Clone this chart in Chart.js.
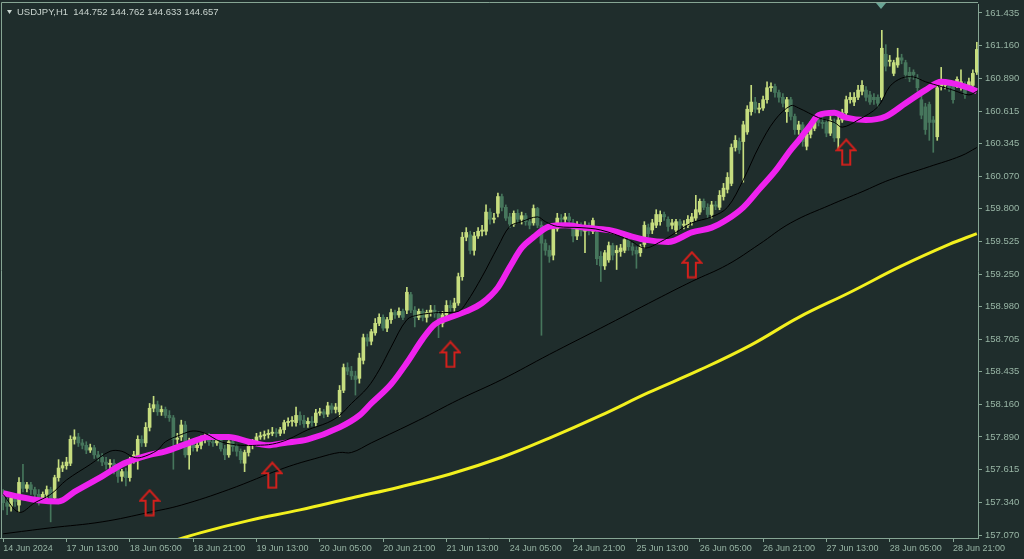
<!DOCTYPE html>
<html>
<head>
<meta charset="utf-8">
<title>USDJPY H1</title>
<script src="https://cdn.jsdelivr.net/npm/chart.js@4.4.1/dist/chart.umd.min.js"></script>
<style>
    html, body { margin: 0; padding: 0; background: #1f2d2c; }
    canvas { display: block; }
</style>
</head>
<body>
<canvas id="priceChart" width="1024" height="559"></canvas>
<script>
// =========================================================================
// USDJPY H1 candles with three moving averages, a smoothed MA and signal arrows
// =========================================================================

// Candles, one per hour bar (bar 0 = 14 Jun 2024)
const opens = [
    157.41,157.34,157.31,157.38,157.32,157.51,157.46,157.49,157.45,157.41,
    157.38,157.41,157.45,157.38,157.55,157.63,157.65,157.67,157.87,157.89,
    157.84,157.82,157.78,157.80,157.74,157.72,157.68,157.66,157.67,157.62,
    157.56,157.60,157.55,157.70,157.73,157.87,157.84,157.97,158.13,158.16,
    158.10,158.12,158.07,158.05,157.87,157.89,157.99,157.74,157.85,157.80,
    157.82,157.87,157.89,157.85,157.84,157.86,157.79,157.74,157.85,157.81,
    157.77,157.67,157.76,157.82,157.85,157.89,157.90,157.91,157.92,157.93,
    157.92,157.95,158.01,158.02,158.01,158.07,158.03,158.00,158.02,158.01,
    158.09,158.10,158.08,158.15,158.12,158.10,158.28,158.47,158.44,158.40,
    158.38,158.53,158.72,158.69,158.76,158.84,158.89,158.80,158.87,158.93,
    158.91,158.94,158.95,159.08,158.95,158.89,158.94,158.89,158.93,158.95,
    158.92,158.84,158.91,158.99,158.97,159.01,159.23,159.56,159.58,159.45,
    159.57,159.61,159.61,159.77,159.71,159.76,159.90,159.81,159.73,159.67,
    159.76,159.71,159.74,159.69,159.68,159.80,159.66,159.51,159.45,159.41,
    159.63,159.72,159.71,159.73,159.68,159.57,159.66,159.61,159.66,159.61,
    159.60,159.40,159.32,159.37,159.49,159.43,159.44,159.45,159.54,159.48,
    159.45,159.43,159.50,159.64,159.62,159.66,159.69,159.75,159.71,159.66,
    159.62,159.69,159.66,159.66,159.69,159.72,159.77,159.86,159.81,159.75,
    159.83,159.81,159.90,159.96,160.01,160.31,160.36,160.36,160.44,160.61,
    160.69,160.63,160.64,160.71,160.81,160.82,160.77,160.73,160.61,160.71,
    160.57,160.46,160.50,160.32,160.42,160.47,160.54,160.52,160.52,160.43,
    160.52,160.39,160.54,160.60,160.71,160.69,160.73,160.78,160.79,160.75,
    160.73,160.73,160.73,161.09,161.03,160.93,161.00,161.06,161.02,160.94,
    160.94,160.89,160.71,160.65,160.67,160.54,160.40,160.82,160.83,160.83,
    160.82,160.83,160.82,160.83,160.83,160.83,160.94
];
const highs = [
    157.45,157.38,157.41,157.41,157.55,157.66,157.51,157.51,157.47,157.45,
    157.43,157.48,157.47,157.57,157.70,157.68,157.72,157.90,157.95,157.92,
    157.87,157.85,157.83,157.82,157.77,157.75,157.72,157.70,157.70,157.64,
    157.62,157.63,157.72,157.77,157.90,157.90,158.01,158.17,158.23,158.19,
    158.15,158.14,158.11,158.07,157.92,158.03,158.02,157.88,157.87,157.86,
    157.90,157.92,157.92,157.88,157.89,157.88,157.82,157.86,157.87,157.83,
    157.79,157.78,157.84,157.87,157.92,157.93,157.94,157.95,157.97,157.96,
    157.97,158.03,158.05,158.06,158.14,158.10,158.07,158.05,158.06,158.12,
    158.13,158.12,158.18,158.17,158.17,158.32,158.50,158.51,158.48,158.44,
    158.59,158.75,158.75,158.79,158.88,158.92,158.91,158.89,158.96,158.95,
    158.97,158.96,159.14,159.10,158.98,158.96,158.96,158.95,158.99,158.99,
    158.94,158.94,159.03,159.03,159.05,159.26,159.60,159.64,159.61,159.60,
    159.64,159.66,159.83,159.80,159.76,159.93,159.92,159.83,159.76,159.78,
    159.79,159.77,159.76,159.71,159.83,159.81,159.69,159.54,159.49,159.66,
    159.76,159.75,159.76,159.76,159.71,159.69,159.68,159.69,159.68,159.72,
    159.63,159.44,159.45,159.52,159.51,159.49,159.50,159.57,159.56,159.51,
    159.48,159.50,159.69,159.67,159.71,159.79,159.78,159.77,159.73,159.71,
    159.71,159.71,159.70,159.74,159.76,159.91,159.88,159.88,159.84,159.86,
    159.86,159.95,160.01,160.10,160.34,160.41,160.39,160.53,160.66,160.83,
    160.73,160.68,160.74,160.86,160.85,160.84,160.79,160.76,160.73,160.73,
    160.59,160.53,160.52,160.44,160.53,160.57,160.57,160.56,160.54,160.57,
    160.55,160.57,160.63,160.74,160.77,160.77,160.83,160.87,160.82,160.78,
    160.76,160.75,161.29,161.17,161.08,161.04,161.14,161.09,161.04,160.98,
    160.96,160.92,160.79,160.68,160.69,160.57,160.84,160.98,160.88,160.87,
    160.84,160.90,160.96,160.86,160.89,160.96,161.19
];
const lows = [
    157.28,157.24,157.27,157.31,157.26,157.43,157.43,157.41,157.38,157.32,
    157.35,157.37,157.18,157.34,157.52,157.60,157.62,157.65,157.83,157.81,
    157.79,157.75,157.76,157.71,157.69,157.65,157.62,157.62,157.58,157.51,
    157.52,157.48,157.52,157.67,157.62,157.81,157.81,157.94,158.10,158.07,
    158.07,158.05,158.02,157.62,157.83,157.86,157.72,157.62,157.77,157.77,
    157.79,157.84,157.82,157.81,157.82,157.77,157.70,157.72,157.77,157.73,
    157.67,157.60,157.73,157.79,157.82,157.87,157.87,157.88,157.90,157.89,
    157.90,157.92,157.98,157.98,157.98,157.99,157.97,157.97,157.98,157.98,
    158.07,158.05,158.06,158.09,158.09,158.06,158.26,158.41,158.37,158.24,
    158.34,158.50,158.65,158.66,158.74,158.82,158.78,158.77,158.84,158.88,
    158.89,158.87,158.92,158.93,158.81,158.87,158.86,158.85,158.90,158.89,
    158.72,158.81,158.89,158.94,158.94,158.99,159.20,159.53,159.42,159.41,
    159.55,159.57,159.58,159.67,159.68,159.73,159.78,159.70,159.64,159.65,
    159.68,159.67,159.66,159.63,159.66,159.64,158.74,159.41,159.35,159.37,
    159.61,159.67,159.67,159.66,159.52,159.54,159.57,159.43,159.58,159.59,
    159.33,159.19,159.29,159.35,159.37,159.29,159.40,159.43,159.45,159.41,
    159.30,159.40,159.47,159.56,159.59,159.64,159.66,159.70,159.61,159.63,
    159.59,159.62,159.63,159.64,159.66,159.70,159.75,159.79,159.72,159.72,
    159.79,159.79,159.87,159.93,159.99,160.28,160.26,160.02,160.42,160.58,
    160.60,160.60,160.62,160.68,160.78,160.73,160.69,160.65,160.52,160.54,
    160.42,160.42,160.32,160.29,160.39,160.45,160.49,160.47,160.40,160.41,
    160.36,160.29,160.52,160.58,160.68,160.66,160.71,160.75,160.70,160.67,
    160.67,160.65,160.71,160.95,160.99,160.91,160.98,161.01,160.89,160.86,
    160.88,160.78,160.55,160.42,160.37,160.27,160.37,160.79,160.80,160.78,
    160.68,160.81,160.79,160.72,160.80,160.81,160.92
];
const closes = [
    157.34,157.31,157.38,157.35,157.51,157.46,157.49,157.45,157.41,157.38,
    157.41,157.45,157.36,157.55,157.63,157.65,157.68,157.87,157.89,157.84,
    157.82,157.78,157.80,157.74,157.72,157.68,157.66,157.67,157.62,157.56,
    157.60,157.55,157.70,157.74,157.87,157.84,157.97,158.13,158.16,158.10,
    158.12,158.07,158.05,157.87,157.88,157.99,157.74,157.85,157.80,157.82,
    157.87,157.89,157.85,157.84,157.86,157.79,157.74,157.85,157.81,157.77,
    157.70,157.76,157.82,157.85,157.89,157.90,157.91,157.92,157.93,157.92,
    157.95,158.01,158.02,158.02,158.07,158.03,158.00,158.02,158.01,158.09,
    158.10,158.08,158.15,158.12,158.14,158.28,158.47,158.44,158.40,158.37,
    158.55,158.72,158.69,158.77,158.84,158.89,158.80,158.87,158.93,158.91,
    158.94,158.89,159.10,158.95,158.89,158.94,158.89,158.93,158.95,158.92,
    158.84,158.91,158.99,158.97,159.01,159.23,159.56,159.60,159.45,159.57,
    159.61,159.62,159.77,159.71,159.72,159.90,159.81,159.72,159.67,159.76,
    159.71,159.74,159.69,159.66,159.80,159.66,159.51,159.45,159.40,159.63,
    159.72,159.71,159.73,159.70,159.57,159.66,159.61,159.66,159.61,159.70,
    159.38,159.32,159.43,159.49,159.41,159.45,159.47,159.54,159.48,159.45,
    159.42,159.48,159.66,159.59,159.68,159.75,159.75,159.73,159.65,159.68,
    159.69,159.66,159.67,159.71,159.73,159.79,159.86,159.81,159.75,159.83,
    159.82,159.91,159.97,160.06,160.31,160.37,160.29,160.50,160.63,160.69,
    160.63,160.64,160.71,160.81,160.82,160.77,160.73,160.68,160.71,160.57,
    160.46,160.50,160.36,160.42,160.50,160.54,160.52,160.51,160.43,160.54,
    160.39,160.54,160.60,160.71,160.73,160.73,160.79,160.83,160.73,160.69,
    160.71,160.68,161.14,160.99,161.04,161.02,161.06,161.04,160.92,160.89,
    160.92,160.81,160.58,160.46,160.52,160.52,160.81,160.86,160.84,160.81,
    160.71,160.88,160.86,160.75,160.86,160.93,161.13
];

// Smoothed magenta MA, read at bar positions
const smoothBars = [0,4,9,14,18,25,30,33,37,41,47,52,57,62,67,71,77,85,90,93,98,102,106,109,113,117,121,125,128,131,134,138,142,147,153,162,168,174,179,183,187,191,195,199,201,204,206,210,213,218,223,228,233,237,243,246];
const smoothPrices = [157.42,157.39,157.36,157.35,157.43,157.56,157.66,157.70,157.74,157.77,157.84,157.89,157.89,157.85,157.82,157.84,157.87,157.97,158.07,158.17,158.33,158.51,158.71,158.83,158.89,158.94,159.01,159.14,159.31,159.47,159.56,159.65,159.66,159.64,159.62,159.54,159.52,159.60,159.64,159.71,159.81,159.96,160.11,160.29,160.37,160.50,160.58,160.60,160.56,160.54,160.57,160.68,160.79,160.86,160.82,160.78];

// Fast black MA
const fastBars = [0,4,8,12,16,22,27,30,33,35,39,41,45,48,51,55,60,64,68,72,77,82,85,88,92,95,98,102,105,110,115,117,121,125,128,131,135,137,140,146,151,158,162,166,170,174,179,183,187,191,195,199,201,206,210,212,216,221,224,227,230,233,237,240,244,246];
const fastPrices = [157.41,157.26,157.34,157.41,157.53,157.66,157.77,157.77,157.72,157.72,157.78,157.85,157.91,157.94,157.92,157.85,157.82,157.82,157.83,157.87,157.95,158.01,158.07,158.17,158.30,158.45,158.64,158.87,158.91,158.93,158.94,159.01,159.23,159.48,159.65,159.69,159.73,159.69,159.65,159.64,159.62,159.54,159.47,159.52,159.60,159.68,159.73,159.81,160.04,160.32,160.54,160.66,160.64,160.56,160.52,160.48,160.54,160.65,160.82,160.89,160.90,160.86,160.82,160.79,160.75,160.78];

// Slow black MA
const slowBars = [0,12,25,37,45,57,71,80,85,88,93,105,115,126,138,151,165,174,183,191,199,209,217,224,234,242,246];
const slowPrices = [157.08,157.13,157.18,157.26,157.32,157.45,157.63,157.72,157.76,157.76,157.84,158.03,158.20,158.37,158.58,158.80,159.04,159.19,159.33,159.50,159.68,159.83,159.94,160.04,160.15,160.24,160.31];

// Yellow long MA
const longBars = [40,50,62,75,88,100,113,126,138,151,163,176,189,201,214,227,239,246];
const longPrices = [156.99,157.09,157.19,157.28,157.38,157.47,157.58,157.72,157.88,158.07,158.26,158.45,158.66,158.89,159.10,159.32,159.50,159.59];

// Buy arrows (centre of the arrow)
const arrowBars = [37, 68, 113, 174, 213];
const arrowPrices = [157.34, 157.57, 158.58, 159.33, 160.27];

// Axis ticks
const yTicks = [161.435,161.160,160.890,160.615,160.345,160.070,159.800,159.525,159.250,158.980,158.705,158.435,158.160,157.890,157.615,157.340,157.070];
const xTickBars = [0,16,32,48,64,80,96,112,128,144,160,176,192,208,224,240];
const xTickLabels = ['14 Jun 2024','17 Jun 13:00','18 Jun 05:00','18 Jun 21:00','19 Jun 13:00','20 Jun 05:00','20 Jun 21:00','21 Jun 13:00','24 Jun 05:00','24 Jun 21:00','25 Jun 13:00','26 Jun 05:00','26 Jun 21:00','27 Jun 13:00','28 Jun 05:00','28 Jun 21:00'];

const BG = '#1f2d2c';
const AXIS = '#86a594';
const TEXT = '#98b5a5';
const BULL = '#c6dd7f';
const BEAR = '#46765c';
const FONT = "'Liberation Sans', Arial, sans-serif";

const barIndex = opens.map((_, i) => i);
const candleColors = barIndex.map(i => closes[i] >= opens[i] ? BULL : BEAR);
const toPoints = (xs, ys) => xs.map((x, k) => ({ x: x, y: ys[k] }));

// Hollow red up arrow used as point style
function makeArrow() {
    const c = document.createElement('canvas');
    c.width = 22;
    c.height = 28;
    const g = c.getContext('2d');
    g.strokeStyle = '#d2201c';
    g.lineWidth = 2;
    g.lineJoin = 'miter';
    g.beginPath();
    g.moveTo(11, 1.5);
    g.lineTo(20.5, 12);
    g.lineTo(15, 12);
    g.lineTo(15, 26.5);
    g.lineTo(7, 26.5);
    g.lineTo(7, 12);
    g.lineTo(1.5, 12);
    g.closePath();
    g.stroke();
    return c;
}

// Background, frame, header text
const terminalFrame = {
    id: 'terminalFrame',
    beforeDraw(chart) {
        const ctx = chart.ctx;
        ctx.save();
        ctx.fillStyle = BG;
        ctx.fillRect(0, 0, chart.width, chart.height);
        ctx.restore();
    },
    afterDraw(chart) {
        const ctx = chart.ctx;
        const a = chart.chartArea;
        ctx.save();
        ctx.strokeStyle = AXIS;
        ctx.lineWidth = 1;
        ctx.beginPath();
        ctx.moveTo(a.left + 1.5, a.bottom);
        ctx.lineTo(a.left + 1.5, a.top - 1.5);
        ctx.lineTo(a.right, a.top - 1.5);
        ctx.stroke();

        // small shift marker at the top
        ctx.fillStyle = '#6aa595';
        const mx = a.left + 881;
        ctx.beginPath();
        ctx.moveTo(mx - 5, a.top - 1);
        ctx.lineTo(mx + 5, a.top - 1);
        ctx.lineTo(mx, a.top + 5);
        ctx.closePath();
        ctx.fill();

        // header
        ctx.fillStyle = '#c9d4cf';
        ctx.beginPath();
        ctx.moveTo(7, 10);
        ctx.lineTo(12, 10);
        ctx.lineTo(9.5, 14);
        ctx.closePath();
        ctx.fill();
        ctx.font = '9.5px ' + FONT;
        ctx.textBaseline = 'middle';
        ctx.fillText('USDJPY,H1  144.752 144.762 144.633 144.657', 17, 12.5);
        ctx.restore();
    }
};

const ctx = document.getElementById('priceChart').getContext('2d');
const priceChart = new Chart(ctx, {
    type: 'bar',
    data: {
        datasets: [
            {
                label: 'Wicks',
                data: barIndex.map(i => ({ x: i, y: [lows[i], highs[i]] })),
                backgroundColor: candleColors,
                barThickness: 1,
                grouped: false,
                order: 5
            },
            {
                label: 'Bodies',
                data: barIndex.map(i => ({ x: i, y: [opens[i], closes[i]] })),
                backgroundColor: candleColors,
                barThickness: 3,
                minBarLength: 1,
                grouped: false,
                order: 4
            },
            {
                type: 'line',
                label: 'Long MA',
                data: toPoints(longBars, longPrices),
                borderColor: '#f2f01e',
                borderWidth: 3,
                pointRadius: 0,
                tension: 0.4,
                order: 3
            },
            {
                type: 'line',
                label: 'Slow MA',
                data: toPoints(slowBars, slowPrices),
                borderColor: '#000000',
                borderWidth: 1,
                pointRadius: 0,
                tension: 0.4,
                order: 3
            },
            {
                type: 'line',
                label: 'Smoothed MA',
                data: toPoints(smoothBars, smoothPrices),
                borderColor: '#ee22ee',
                borderWidth: 6,
                pointRadius: 0,
                cubicInterpolationMode: 'monotone',
                order: 2
            },
            {
                type: 'line',
                label: 'Fast MA',
                data: toPoints(fastBars, fastPrices),
                borderColor: '#000000',
                borderWidth: 1,
                pointRadius: 0,
                tension: 0.35,
                order: 1
            },
            {
                type: 'scatter',
                label: 'Signals',
                data: toPoints(arrowBars, arrowPrices),
                pointStyle: makeArrow(),
                pointRadius: 11,
                order: 0
            }
        ]
    },
    options: {
        responsive: false,
        devicePixelRatio: 1,
        animation: false,
        layout: { autoPadding: false, padding: { top: 4, left: 0, right: 0, bottom: 0 } },
        plugins: {
            legend: { display: false },
            tooltip: { enabled: false }
        },
        scales: {
            x: {
                type: 'linear',
                min: -0.8,
                max: 246.3,
                offset: false,
                grid: { drawOnChartArea: false, offset: false, tickLength: 4, color: AXIS },
                border: { display: true, color: AXIS },
                ticks: {
                    autoSkip: false,
                    maxRotation: 0,
                    align: 'start',
                    padding: 1,
                    color: TEXT,
                    font: { family: FONT, size: 9 },
                    callback: v => {
                        const k = xTickBars.indexOf(v);
                        return k >= 0 ? xTickLabels[k] : '';
                    }
                },
                afterBuildTicks: s => { s.ticks = xTickBars.map(v => ({ value: v })); },
                afterFit: s => {
                    s.height = 21;
                    s.paddingLeft = 0;
                    s.paddingRight = 0;
                }
            },
            y: {
                position: 'right',
                min: 157.045,
                max: 161.51,
                grid: { drawOnChartArea: false, tickLength: 4, color: AXIS },
                border: { display: true, color: AXIS },
                ticks: {
                    autoSkip: false,
                    padding: 3,
                    color: TEXT,
                    font: { family: FONT, size: 9.5 },
                    callback: v => Number(v).toFixed(3)
                },
                afterBuildTicks: s => { s.ticks = yTicks.map(v => ({ value: v })); },
                afterFit: s => {
                    s.width = 46;
                    s.paddingTop = 0;
                    s.paddingBottom = 0;
                }
            }
        }
    },
    plugins: [terminalFrame]
});
</script>
</body>
</html>
